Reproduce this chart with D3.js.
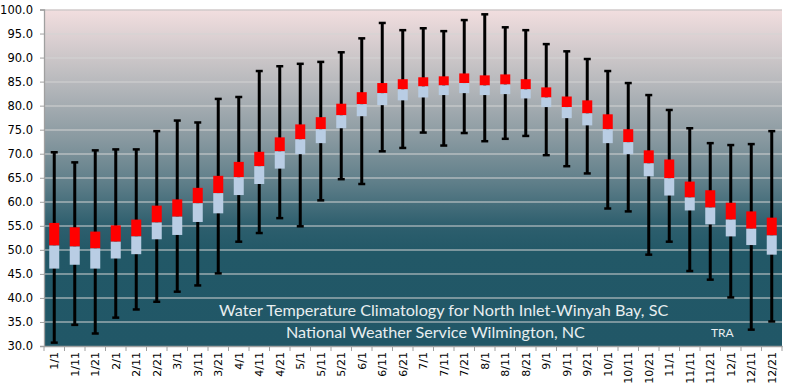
<!DOCTYPE html>
<html>
<head>
<meta charset="utf-8">
<script src="https://cdn.jsdelivr.net/npm/d3@7"></script>
<style>
  body { margin: 0; background: #fff; }
  svg { display: block; }
</style>
</head>
<body>
<div id="chart"></div>
<script>
/* DATA */
const dates = ["1/1","1/11","1/21","2/1","2/11","2/21","3/1","3/11","3/21","4/1","4/11","4/21",
  "5/1","5/11","5/21","6/1","6/11","6/21","7/1","7/11","7/21","8/1","8/11","8/21",
  "9/1","9/11","9/21","10/1","10/11","10/21","11/1","11/11","11/21","12/1","12/11","12/21"];

const maxVals = [70.3,68.2,70.7,70.9,70.9,74.7,76.9,76.5,81.4,81.8,87.2,88.2,
  88.7,89.1,91.1,94.0,97.2,95.7,96.1,95.5,97.8,99.0,96.3,95.7,
  92.8,91.3,89.7,87.2,84.7,82.2,79.1,75.3,72.2,71.8,72.0,74.7];
const q3Vals = [55.6,54.7,53.8,55.1,56.3,59.2,60.5,62.9,65.4,68.3,70.4,73.4,
  76.1,77.6,80.4,82.8,84.7,85.5,85.9,86.1,86.7,86.3,86.5,85.5,
  83.8,81.9,81.1,78.2,75.1,70.7,68.8,64.2,62.4,59.8,58.0,56.7];
const medVals = [50.9,50.7,50.3,51.7,52.8,55.7,56.9,59.7,61.8,65.1,67.4,70.5,
  73.0,75.1,78.0,80.3,82.6,83.4,84.0,84.2,84.7,84.2,84.4,83.4,
  81.7,79.7,78.4,75.1,72.4,68.0,64.9,60.9,58.8,56.3,54.4,53.0];
const q1Vals = [46.1,46.9,46.1,48.2,49.1,52.2,53.1,55.8,57.6,61.4,63.7,66.9,
  69.9,72.2,75.3,77.8,80.1,81.1,81.7,82.2,82.6,82.2,82.4,81.5,
  79.7,77.4,75.9,72.2,69.9,65.3,61.3,58.2,55.3,52.8,51.0,49.0];
const minVals = [30.7,34.4,32.6,35.9,37.6,39.2,41.3,42.6,45.1,51.7,53.5,56.6,
  54.9,60.3,64.7,63.7,70.5,71.2,74.4,71.7,74.3,72.6,73.1,73.7,
  69.7,67.4,65.9,58.6,58.0,49.0,51.7,45.6,43.8,40.1,33.4,35.1];

const yTicks = [30,35,40,45,50,55,60,65,70,75,80,85,90,95,100];
const titleLines = ["Water Temperature Climatology for North Inlet-Winyah Bay, SC",
  "National Weather Service Wilmington, NC"];
const initials = "TRA";

/* LAYOUT */
const W = 785, H = 390;
const margin = {top: 9.5, right: 3, bottom: 44, left: 44};
const width = W - margin.left - margin.right;
const height = H - margin.top - margin.bottom;
const boxW = 10, capW = 7;

const rows = dates.map((d, i) => ({
  date: d, max: maxVals[i], q3: q3Vals[i], med: medVals[i], q1: q1Vals[i], min: minVals[i]
}));

const svg = d3.select("#chart").append("svg")
  .attr("width", W).attr("height", H);

// background gradient
const defs = svg.append("defs");
const grad = defs.append("linearGradient")
  .attr("id", "bg").attr("x1", 0).attr("y1", 0).attr("x2", 0).attr("y2", 1);
[[0, "#f2dedf"], [0.2, "#bcbcbf"], [0.38, "#8a9aa1"], [0.52, "#5d7d88"],
 [0.64, "#2e5f6e"], [0.72, "#225867"], [1, "#215767"]]
  .forEach(s => grad.append("stop").attr("offset", s[0]).attr("stop-color", s[1]));

const g = svg.append("g")
  .attr("transform", `translate(${margin.left},${margin.top})`);

const x = d3.scaleBand().domain(dates).range([0, width]);
const y = d3.scaleLinear().domain([30, 100]).range([height, 0]);

g.append("rect")
  .attr("width", width).attr("height", height)
  .attr("fill", "url(#bg)");

// gridlines
g.append("g").selectAll("line")
  .data(yTicks.filter(t => t > 30))
  .join("line")
  .attr("x1", 0).attr("x2", width)
  .attr("y1", d => Math.round(y(d)) + 0.5).attr("y2", d => Math.round(y(d)) + 0.5)
  .attr("stroke", d => d === 100 ? "#c0c0c0" : "#d4d4d4")
  .attr("stroke-width", 1.2);

// axes
const yAxis = g.append("g")
  .call(d3.axisLeft(y).tickValues(yTicks).tickFormat(d3.format(".1f")).tickSize(4).tickPadding(7));
const xAxis = g.append("g")
  .attr("transform", `translate(0,${height})`)
  .call(d3.axisBottom(x).tickSize(0).tickPadding(0));

[yAxis, xAxis].forEach(a => {
  a.select(".domain").attr("stroke", "#a0a0a0").attr("stroke-width", 1.3);
  a.selectAll(".tick line").attr("stroke", "#a0a0a0");
  a.selectAll("text").attr("font-family", "DejaVu Sans, Verdana, sans-serif")
    .attr("font-size", 11.5).attr("fill", "#000");
});

// x ticks between bands
xAxis.append("g").selectAll("line")
  .data(dates.map((d, i) => i).concat([dates.length]))
  .join("line")
  .attr("x1", i => i * x.step()).attr("x2", i => i * x.step())
  .attr("y1", 0).attr("y2", 5)
  .attr("stroke", "#a0a0a0");

xAxis.selectAll(".tick text")
  .attr("transform", "rotate(-90)")
  .attr("text-anchor", "end")
  .attr("x", -6).attr("y", 0)
  .attr("dy", "0.35em")
  .attr("font-size", 11);

// box plots
const boxes = g.append("g").selectAll("g")
  .data(rows)
  .join("g")
  .attr("transform", d => `translate(${x(d.date) + x.bandwidth() / 2},0)`);

boxes.append("line")
  .attr("y1", d => y(d.max)).attr("y2", d => y(d.min))
  .attr("stroke", "#000").attr("stroke-width", 3);
boxes.append("line")
  .attr("x1", -capW / 2).attr("x2", capW / 2)
  .attr("y1", d => y(d.max)).attr("y2", d => y(d.max))
  .attr("stroke", "#000").attr("stroke-width", 2.5);
boxes.append("line")
  .attr("x1", -capW / 2).attr("x2", capW / 2)
  .attr("y1", d => y(d.min)).attr("y2", d => y(d.min))
  .attr("stroke", "#000").attr("stroke-width", 2.5);

boxes.append("rect")
  .attr("x", -boxW / 2).attr("width", boxW)
  .attr("y", d => y(d.q3)).attr("height", d => y(d.med) - y(d.q3))
  .attr("fill", "#ff0000");
boxes.append("rect")
  .attr("x", -boxW / 2).attr("width", boxW)
  .attr("y", d => y(d.med)).attr("height", d => y(d.q1) - y(d.med))
  .attr("fill", "#b9cde4");

// titles (start-anchored so the left edge matches)
g.append("g").selectAll("text")
  .data(titleLines)
  .join("text")
  .attr("x", (d, i) => i === 0 ? 175 : 242)
  .attr("y", (d, i) => i === 0 ? 306.5 : 328.5)
  .attr("font-family", "Lato, 'Open Sans', sans-serif")
  .attr("font-size", 16.2)
  .attr("fill", "#e8eef0")
  .text(d => d);

g.append("text")
  .attr("x", 667).attr("y", 327.5)
  .attr("font-family", "Lato, 'Open Sans', sans-serif")
  .attr("font-size", 12)
  .attr("fill", "#e8eef0")
  .text(initials);
</script>
</body>
</html>
